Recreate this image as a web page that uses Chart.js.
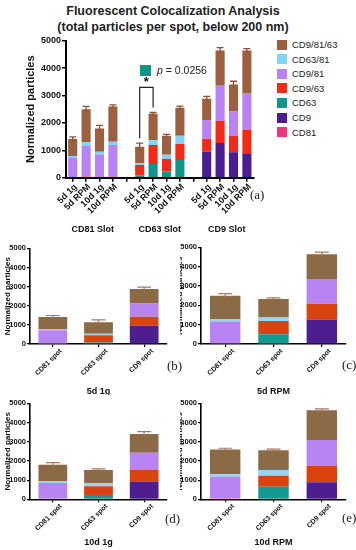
<!DOCTYPE html>
<html lang="en">
<head>
<meta charset="UTF-8">
<meta name="viewport" content="width=device-width, initial-scale=1.0">
<title>Fluorescent Colocalization Analysis</title>
<script src="https://cdn.jsdelivr.net/npm/chart.js"></script>
<style>
    body { margin: 0; background: #fff; font-family: 'Liberation Sans', Arial, sans-serif; }
    .janela { position: relative; width: 356px; height: 550px; overflow: hidden; }
    .janela canvas { position: absolute; }
    .titulo { position: absolute; left: 0; top: 3px; width: 346px; text-align: center;
              font-weight: bold; font-size: 12.5px; line-height: 16px; color: #222; }
    .legenda { position: absolute; left: 277px; top: 37.5px; }
    .item { height: 14.55px; display: flex; align-items: center; font-size: 9.5px; color: #222; }
    .item span { width: 10px; height: 10px; margin-right: 5px; display: inline-block; }
    .letra { position: absolute; font-family: 'Liberation Serif', serif; font-size: 13px; color: #222; z-index: 5; }
    .pval { position: absolute; left: 140px; top: 64px; display: flex; align-items: center;
            font-size: 10.5px; color: #222; }
    .pval span { width: 11px; height: 11px; background: #0f968a; margin-right: 6px; display: inline-block; }
    #painel_b, #painel_d { z-index: 2; background: #fff; }
</style>
</head>

<body>
<div class="janela">
    <div class="titulo">Fluorescent Colocalization Analysis<br>(total particles per spot, below 200 nm)</div>

    <canvas id="painel_a" width="262" height="215" style="left:0; top:30px;"></canvas>
    <div class="legenda" id="legenda"></div>
    <div class="pval"><span></span><i>p</i>&nbsp;= 0.0256</div>

    <canvas id="painel_b" width="180" height="160" style="left:0; top:240px;"></canvas>
    <canvas id="painel_c" width="184" height="160" style="left:172px; top:240px;"></canvas>
    <canvas id="painel_d" width="180" height="155" style="left:0; top:395px;"></canvas>
    <canvas id="painel_e" width="184" height="155" style="left:172px; top:395px;"></canvas>

    <div class="letra" style="left:250px; top:187px;">(a)</div>
    <div class="letra" style="left:167px; top:358px;">(b)</div>
    <div class="letra" style="left:342px; top:357px;">(c)</div>
    <div class="letra" style="left:165px; top:511px;">(d)</div>
    <div class="letra" style="left:342px; top:510px;">(e)</div>
</div>

<script>
    // dados
    const condicoes = ['5d 1g', '5d RPM', '10d 1g', '10d RPM'];
    const slots = ['CD81 Slot', 'CD63 Slot', 'CD9 Slot'];
    const spots = ['CD81 spot', 'CD63 spot', 'CD9 spot'];
    const ticksY = [0, 1000, 2000, 3000, 4000, 5000];

    const series = ['CD81', 'CD9', 'CD63', 'CD9/63', 'CD9/81', 'CD63/81', 'CD9/81/63'];
    const cores = ['#f0337c', '#4a1d93', '#0f968a', '#f42a16', '#b881f4', '#80d4f8', '#9c5f3f'];
    const coresInferior = ['#ee3b8a', '#4e1d8f', '#139b92', '#d9430e', '#b784f2', '#8fd7f5', '#8c6a46'];

    // 12 valores: CD81 Slot (4 condicoes), CD63 Slot, CD9 Slot
    const cd81 = [30, 40, 30, 40, 0, 0, 0, 0, 0, 0, 0, 0];
    const cd9 = [0, 0, 0, 0, 0, 0, 0, 0, 950, 1270, 930, 890];
    const cd63 = [0, 0, 0, 0, 80, 500, 230, 650, 0, 0, 0, 0];
    const cd9_63 = [0, 0, 0, 0, 380, 690, 450, 580, 470, 810, 590, 850];
    const cd9_81 = [690, 1120, 820, 1150, 0, 0, 0, 0, 690, 1280, 900, 1350];
    const cd63_81 = [70, 130, 100, 120, 70, 180, 160, 300, 0, 0, 0, 0];
    const cd9_81_63 = [620, 1210, 850, 1290, 600, 960, 690, 1020, 770, 1280, 980, 1550];
    const erroTotal = [80, 100, 110, 60, 130, 50, 50, 60, 90, 110, 120, 70];

    const valores = [cd81, cd9, cd63, cd9_63, cd9_81, cd63_81, cd9_81_63];

    const fonte = "'Liberation Sans', Arial, sans-serif";
    Chart.defaults.font.family = fonte;
    Chart.defaults.color = '#111';

    // legenda em html, ordem invertida como na figura
    const legenda = document.getElementById('legenda');
    for (let i = series.length - 1; i >= 0; i--) {
        legenda.innerHTML += `<div class="item"><span style="background:${cores[i]}"></span>${series[i]}</div>`;
    }

    const barrasErro = {
        id: 'barrasErro',
        afterDatasetsDraw(chart, args, opts) {
            const ctx = chart.ctx;
            const x = chart.scales.x;
            const y = chart.scales.y;
            ctx.save();
            ctx.strokeStyle = opts.cor;
            ctx.lineWidth = opts.espessura;
            opts.erros.forEach(function (e, i) {
                if (e == null) return;
                let total = 0;
                chart.data.datasets.forEach(function (d) { total += d.data[i] || 0; });
                const px = x.getPixelForValue(i);
                const y0 = y.getPixelForValue(total - e);
                const y1 = y.getPixelForValue(total + e);
                ctx.beginPath();
                ctx.moveTo(px, y0);
                ctx.lineTo(px, y1);
                ctx.moveTo(px - opts.cap, y1);
                ctx.lineTo(px + opts.cap, y1);
                ctx.stroke();
            });
            ctx.restore();
        }
    };

    // rotulos dos grupos e colchete de significancia do painel (a)
    const anotacoesA = {
        id: 'anotacoesA',
        afterDraw(chart) {
            const ctx = chart.ctx;
            const x = chart.scales.x;
            const y = chart.scales.y;
            ctx.save();
            ctx.fillStyle = '#111';
            ctx.font = 'bold 9px ' + fonte;
            ctx.textAlign = 'center';
            ctx.textBaseline = 'middle';
            slots.forEach(function (s, i) {
                const meio = (x.getPixelForValue(i * 5) + x.getPixelForValue(i * 5 + 3)) / 2;
                ctx.fillText(s, meio, chart.chartArea.bottom + 52);
            });

            const ia = 5, ib = 6;
            const topoA = cd63[4] + cd9_63[4] + cd63_81[4] + cd9_81_63[4] + erroTotal[4] + 180;
            const topoB = cd63[5] + cd9_63[5] + cd63_81[5] + cd9_81_63[5] + erroTotal[5] + 180;
            const xa = x.getPixelForValue(ia), xb = x.getPixelForValue(ib);
            const yl = y.getPixelForValue(3300);
            ctx.strokeStyle = '#222';
            ctx.lineWidth = 1.2;
            ctx.beginPath();
            ctx.moveTo(xa, y.getPixelForValue(topoA));
            ctx.lineTo(xa, yl);
            ctx.lineTo(xb, yl);
            ctx.lineTo(xb, y.getPixelForValue(topoB));
            ctx.stroke();
            ctx.font = 'bold 13px ' + fonte;
            ctx.fillText('*', (xa + xb) / 2, yl - 5);
            ctx.restore();
        }
    };

    function espalhar(arr) {
        const saida = [];
        for (let i = 0; i < slots.length; i++) {
            if (i > 0) saida.push(null);
            for (let j = 0; j < condicoes.length; j++) saida.push(arr[i * 4 + j]);
        }
        return saida;
    }

    function eixos(cfg) {
        return {
            x: {
                stacked: true,
                offset: true,
                grid: { display: true, drawOnChartArea: false, drawTicks: true, offset: false,
                        tickLength: cfg.tick, color: '#000', lineWidth: cfg.linha },
                border: { display: true, color: '#000', width: cfg.borda },
                ticks: { color: '#111', font: { size: cfg.fonteX, weight: 'bold' }, minRotation: 45, maxRotation: 45,
                         autoSkip: false, labelOffset: cfg.desloc, padding: 0 },
                title: { display: !!cfg.tituloX, text: cfg.tituloX, color: '#111',
                         font: { size: 9, weight: 'bold' }, padding: { top: 0, bottom: cfg.padTituloX } },
                afterFit(s) { s.height = cfg.alturaX; }
            },
            y: {
                stacked: true,
                min: 0,
                max: 5000,
                afterBuildTicks(s) { s.ticks = ticksY.map(function (v) { return { value: v }; }); },
                grid: { display: true, drawOnChartArea: false, drawTicks: true,
                        tickLength: cfg.tick, color: '#000', lineWidth: cfg.linha },
                border: { display: true, color: '#000', width: cfg.borda },
                ticks: { color: '#111', font: { size: cfg.fonteY, weight: 'bold' }, padding: 1,
                         callback: function (v) { return String(v); } },
                title: { display: true, text: 'Normalized particles', color: '#111',
                         font: { size: cfg.fonteTitulo, weight: 'bold' }, padding: { top: cfg.padTitulo, bottom: 0 } },
                afterFit(s) { s.width = cfg.larguraY; }
            }
        };
    }

    // painel (a)
    new Chart(document.getElementById('painel_a'), {
        type: 'bar',
        data: {
            labels: espalhar(condicoes.concat(condicoes, condicoes)).map(function (v) { return v || ''; }),
            datasets: series.map(function (nome, i) {
                return { label: nome, data: espalhar(valores[i]), backgroundColor: cores[i],
                         barPercentage: 0.68, categoryPercentage: 1 };
            })
        },
        options: {
            responsive: false,
            animation: false,
            layout: { padding: { top: 10.7, right: 8.4, left: 0, bottom: 0 } },
            plugins: {
                legend: { display: false },
                tooltip: { enabled: false },
                barrasErro: { erros: espalhar(erroTotal), cor: '#8a5236', espessura: 1.3, cap: 3.5 }
            },
            scales: eixos({ tick: 4, linha: 1.5, borda: 2, fonteX: 9, fonteY: 9, fonteTitulo: 11,
                            padTitulo: 24, larguraY: 66, alturaX: 67.3, desloc: 3 })
        },
        plugins: [barrasErro, anotacoesA]
    });

    // paineis (b) a (e): uma condicao, tres spots
    function painelInferior(id, cond, cfg) {
        new Chart(document.getElementById(id), {
            type: 'bar',
            data: {
                labels: spots,
                datasets: series.map(function (nome, i) {
                    return { label: nome,
                             data: [0, 1, 2].map(function (s) { return valores[i][s * 4 + cond]; }),
                             backgroundColor: coresInferior[i], barPercentage: 0.63, categoryPercentage: 1 };
                })
            },
            options: {
                responsive: false,
                animation: false,
                layout: { padding: { top: cfg.padTopo, right: cfg.padDir, left: 0, bottom: 0 } },
                plugins: {
                    legend: { display: false },
                    tooltip: { enabled: false },
                    barrasErro: { erros: [0, 1, 2].map(function (s) { return erroTotal[s * 4 + cond]; }),
                                  cor: '#a87a62', espessura: 1.2, cap: 7 }
                },
                scales: eixos({ tick: 3, linha: 1.2, borda: 1.6, fonteX: 7, fonteY: 7.5, fonteTitulo: 8,
                                padTitulo: cfg.padTitulo, larguraY: cfg.larguraY, alturaX: cfg.alturaX,
                                desloc: 8, tituloX: condicoes[cond], padTituloX: cfg.padTituloX })
            },
            plugins: [barrasErro]
        });
    }

    painelInferior('painel_b', 0, { padTopo: 8.3, padDir: 13, larguraY: 30, alturaX: 56, padTitulo: 3, padTituloX: 2.6 });
    painelInferior('painel_c', 1, { padTopo: 7.3, padDir: 10, larguraY: 29, alturaX: 56, padTitulo: 3, padTituloX: 2.6 });
    painelInferior('painel_d', 2, { padTopo: 8.3, padDir: 13, larguraY: 30, alturaX: 50.7, padTitulo: 3, padTituloX: 1.6 });
    painelInferior('painel_e', 3, { padTopo: 8.3, padDir: 10, larguraY: 29, alturaX: 50.7, padTitulo: 3, padTituloX: 1.6 });
</script>
</body>
</html>
